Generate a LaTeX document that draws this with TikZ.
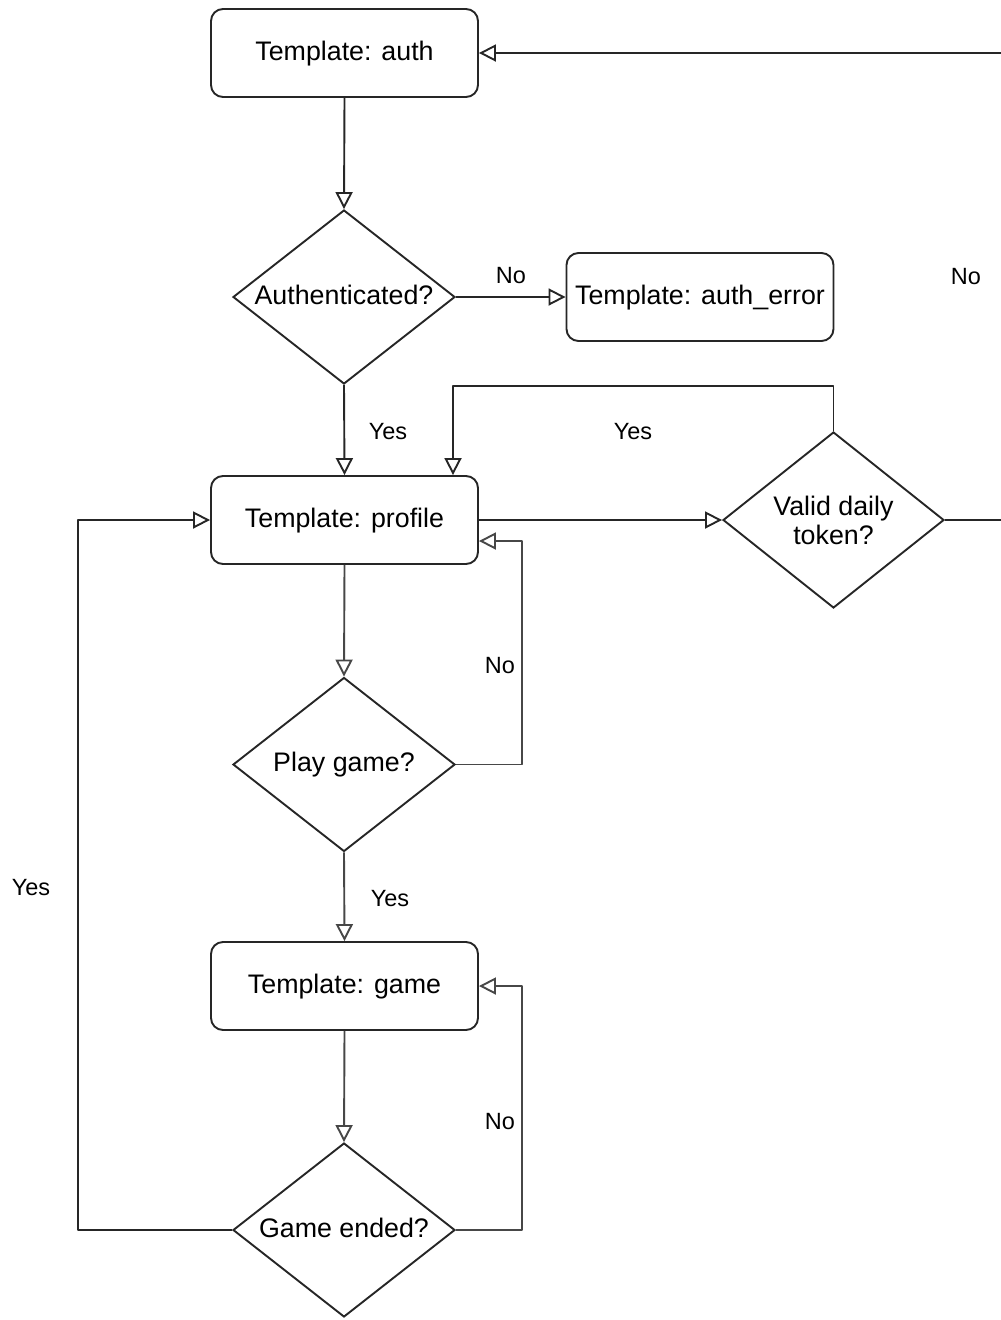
\documentclass[tikz,border=0pt]{standalone}
\usepackage{fontspec}
\setmainfont{Liberation Sans}
\usetikzlibrary{shapes.geometric,arrows.meta}

\begin{document}
\begin{tikzpicture}[x=1pt,y=-1pt,
  line width=1.9pt,
  every node/.style={font=\fontsize{26.8}{29}\selectfont},
  tbox/.style={draw=black!85, rounded corners=12pt, minimum width=267pt,
    minimum height=88pt, inner sep=0pt, fill=white,
    text height=19pt, text depth=5pt},
  decision/.style={draw=black!85, diamond, aspect=1.276, minimum width=222pt,
    minimum height=174pt, inner sep=0pt, align=center, fill=white},
  lbl/.style={font=\fontsize{23.5}{28}\selectfont, inner sep=0pt},
  flow/.style={draw=black!85, -{Triangle[open, length=17pt, width=17pt]},
    line join=round},
  gflow/.style={flow, draw=black!72},
]
\useasboundingbox (0,0) rectangle (1001,1320);

% process boxes
\node[tbox] (auth) at (344.5,53) {Template: auth};
\node[tbox] (autherr) at (700,297) {Template: auth\_error};
\node[tbox] (prof) at (344.5,520) {Template: profile};
\node[tbox] (game) at (344.5,986) {Template: game};

% decisions
\node[decision, text height=19pt, text depth=5pt] (authq) at (344,297) {Authenticated?};
\node[decision, minimum width=221pt, minimum height=176pt] (token) at (833.5,520) {Valid daily\\token?};
\node[decision, text height=19pt, text depth=5pt] (play) at (344,764.5) {Play game?};
\node[decision, text height=19pt, text depth=5pt] (ended) at (344,1230) {Game ended?};

% loose ends and bends
\coordinate (rtop) at (1001,53);
\coordinate (rmid) at (1001,520);
\coordinate (yloop) at (453,386);
\coordinate (playno) at (522,541);
\coordinate (endno) at (522,986);
\coordinate (endyes) at (78,520);

% connectors
\draw[flow] (rtop) -- (auth.east);
\draw[flow] (auth.south) -- (authq.north);
\draw[flow] (authq.east) -- (autherr.west);
\draw[flow] (authq.south) -- (prof.north);
\draw[flow] (prof.east) -- (token.west);
\draw[flow] (token.north) |- (yloop) -- (prof.north -| yloop);
\draw[draw=black!85] (token.east) -- (rmid);
\draw[gflow] (prof.south) -- (play.north);
\draw[gflow] (play.east) -| (playno) -- (playno -| prof.east);
\draw[gflow] (play.south) -- (game.north);
\draw[gflow] (game.south) -- (ended.north);
\draw[gflow] (ended.east) -| (endno) -- (game.east);
\draw[flow] (ended.west) -| (endyes) -- (prof.west);

% branch labels
\node[lbl] (lno1) at (511,276) {No};
\node[lbl] (lno2) at (966,277) {No};
\node[lbl] (lyes1) at (388,432) {Yes};
\node[lbl] (lyes2) at (633,432) {Yes};
\node[lbl] (lno3) at (500,666) {No};
\node[lbl] (lyes3) at (390,899) {Yes};
\node[lbl] (lno4) at (500,1122) {No};
\node[lbl] (lyes4) at (31,888) {Yes};
\end{tikzpicture}
\end{document}
